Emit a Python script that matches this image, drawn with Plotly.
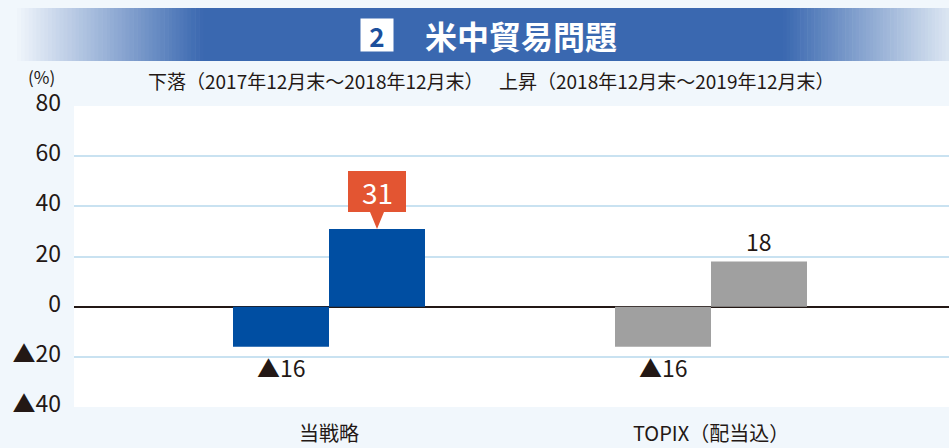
import plotly.graph_objects as go

# ---- data ----
categories = ["当戦略", "TOPIX（配当込）"]
fall_values = [-16, -16]      # 下落（2017年12月末～2018年12月末）
rise_values = [31, 18]        # 上昇（2018年12月末～2019年12月末）
fall_label = "下落（2017年12月末～2018年12月末）"
rise_label = "上昇（2018年12月末～2019年12月末）"
y_ticks = [-40, -20, 0, 20, 40, 60, 80]
y_ticktext = [("▲" + str(abs(v))) if v < 0 else str(v) for v in y_ticks]
title_no = "2"
title_text = "米中貿易問題"

# ---- style ----
W, H = 949, 448
L, R, T, B = 74, 0, 106, 41
FONT = "Noto Sans CJK JP"
TXT = "#231815"
BLUE = "#004ea2"
GREY = "#a0a0a0"
ORANGE = "#e35532"
BANNER = (58, 104, 176)
BAR_W = 0.2513
bar_colors = [BLUE, GREY]

pw, ph = W - L - R, H - T - B
def px(x):
    return (x - L) / pw
def py(y):
    return (H - B - y) / ph

xs = list(range(len(categories)))

fig = go.Figure()
fig.add_trace(go.Bar(x=xs, y=fall_values, width=BAR_W, offset=-BAR_W,
                     marker=dict(color=bar_colors, line=dict(width=0)),
                     name=fall_label, hoverinfo="skip"))
fig.add_trace(go.Bar(x=xs, y=rise_values, width=BAR_W, offset=0,
                     marker=dict(color=bar_colors, line=dict(width=0)),
                     name=rise_label, hoverinfo="skip"))

shapes = []
annotations = []

# banner gradient
def mix(c1, c2, t):
    return "rgb(%d,%d,%d)" % tuple(round(a + (b - a) * t) for a, b in zip(c1, c2))

by0, by1 = 8, 61
left_start, left_end = 17, 203
right_start, right_end = 783, 949
c_left = (240, 245, 251)
c_right = (220, 230, 242)
shapes.append(dict(type="rect", xref="paper", yref="paper",
                   x0=px(left_end - 1), x1=px(right_start + 1), y0=py(by1), y1=py(by0),
                   fillcolor="rgb(%d,%d,%d)" % BANNER, line=dict(width=0), layer="above"))
n = 48
for i in range(n):
    xa = left_start + (left_end - left_start) * i / n
    xb = left_start + (left_end - left_start) * (i + 1) / n
    shapes.append(dict(type="rect", xref="paper", yref="paper",
                       x0=px(xa), x1=px(xb + 0.6), y0=py(by1), y1=py(by0),
                       fillcolor=mix(c_left, BANNER, (i + 0.5) / n), line=dict(width=0), layer="above"))
    xa = right_start + (right_end - right_start) * i / n
    xb = right_start + (right_end - right_start) * (i + 1) / n
    shapes.append(dict(type="rect", xref="paper", yref="paper",
                       x0=px(xa), x1=px(xb + 0.6), y0=py(by1), y1=py(by0),
                       fillcolor=mix(BANNER, c_right, (i + 0.5) / n), line=dict(width=0), layer="above"))

annotations.append(dict(xref="paper", yref="paper", x=px(377), y=py(35), text="<b>" + title_no + "</b>",
                        showarrow=False, bgcolor="white", width=32, height=32, borderpad=0,
                        font=dict(family=FONT, size=26, color="#1c4f9c"), xanchor="center", yanchor="middle"))
annotations.append(dict(xref="paper", yref="paper", x=px(521), y=py(35), text="<b>" + title_text + "</b>",
                        showarrow=False, font=dict(family=FONT, size=32, color="white"),
                        xanchor="center", yanchor="middle"))

# header texts
annotations.append(dict(xref="paper", yref="paper", x=px(41), y=py(77), text="(%)", showarrow=False,
                        font=dict(family=FONT, size=17, color=TXT), xanchor="center", yanchor="middle"))
annotations.append(dict(xref="paper", yref="paper", x=px(146), y=py(80), text=fall_label, showarrow=False,
                        font=dict(family=FONT, size=19, color=TXT), xanchor="left", yanchor="middle"))
annotations.append(dict(xref="paper", yref="paper", x=px(497), y=py(80), text=rise_label, showarrow=False,
                        font=dict(family=FONT, size=19, color=TXT), xanchor="left", yanchor="middle"))

# data labels
for i, v in enumerate(fall_values):
    annotations.append(dict(x=xs[i] - BAR_W / 2, y=v, text=("▲" + str(abs(v))) if v < 0 else str(v),
                            showarrow=False, yanchor="top", yshift=-1,
                            font=dict(family=FONT, size=23, color=TXT)))
for i, v in enumerate(rise_values):
    if i == 0:
        shapes.append(dict(type="path", xref="x", yref="y", xsizemode="pixel", ysizemode="pixel",
                           xanchor=xs[i] + BAR_W / 2, yanchor=v,
                           path="M0,0 L-7,17 L-29,17 L-29,58 L29,58 L29,17 L7,17 Z",
                           fillcolor=ORANGE, line=dict(width=0), layer="above"))
        annotations.append(dict(x=xs[i] + BAR_W / 2, y=v, text=str(v), showarrow=False,
                                yanchor="middle", yshift=37,
                                font=dict(family=FONT, size=28, color="white")))
    else:
        annotations.append(dict(x=xs[i] + BAR_W / 2, y=v, text=str(v), showarrow=False,
                                yanchor="bottom", yshift=2,
                                font=dict(family=FONT, size=23, color=TXT)))

left_unit = (329 - L) / 382.0
right_unit = (W - R - 711) / 382.0

fig.update_layout(
    width=W, height=H,
    margin=dict(l=L, r=R, t=T, b=B, pad=0, autoexpand=False),
    paper_bgcolor="#f1f7fc",
    plot_bgcolor="white",
    showlegend=False,
    barmode="overlay",
    shapes=shapes,
    annotations=annotations,
    xaxis=dict(range=[-left_unit, 1 + right_unit], tickvals=xs, ticktext=categories,
               showgrid=False, zeroline=False, showline=False, automargin=False,
               ticks="outside", ticklen=9, tickcolor="rgba(0,0,0,0)",
               tickfont=dict(family=FONT, size=20, color=TXT), fixedrange=True),
    yaxis=dict(range=[-40, 80], tickvals=y_ticks, ticktext=y_ticktext,
               showgrid=True, gridcolor="#c9e2f1", gridwidth=2, automargin=False,
               zeroline=True, zerolinecolor=TXT, zerolinewidth=1.5,
               showline=False, ticks="", ticklabelstandoff=12, ticklabelshift=-3,
               tickfont=dict(family=FONT, size=23, color=TXT), fixedrange=True),
)

fig.write_html("out.html", config={"displayModeBar": False},
               post_script="document.body.style.margin='0';document.body.style.overflow='hidden';")
